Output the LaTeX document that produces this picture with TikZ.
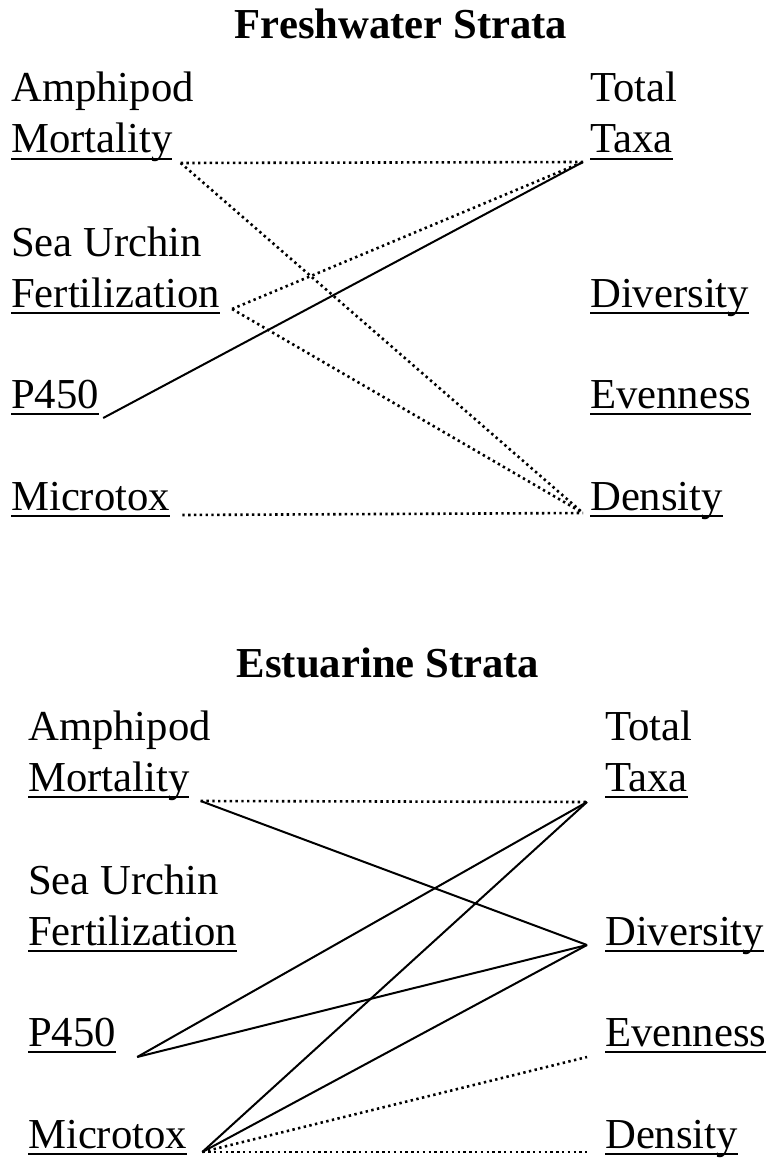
\documentclass[tikz,border=0pt]{standalone}
\usepackage{fontspec}
\setmainfont{Liberation Serif}
\usepackage{tikz}

% body size of the labels
\newcommand{\body}{\fontsize{42.7}{51}\selectfont}
% underline at a fixed depth, crossing the descenders
\newcommand{\ulword}[1]{\setbox0=\hbox{#1}\rlap{\rule[-0.16em]{\wd0}{0.05em}}\box0}

\begin{document}
\begin{tikzpicture}[x=1pt, y=-1pt,
        % Define styles for the texts and the links
        word/.style={anchor=base west, inner sep=0pt, font=\body},
        head/.style={anchor=base, inner sep=0pt, font=\body\bfseries},
        sig/.style={line width=2pt},
        nsig/.style={line width=2.6pt, dash pattern=on 2.4pt off 3.4pt}]

        \useasboundingbox (0,0) rectangle (769,1161);

        % 1. Freshwater strata: titles and terms
        \node[head] (ftitle) at (401,39) {Freshwater Strata};

        \node[word] (famph) at (11,102) {Amphipod};
        \node[word] (fmort) at (11,153) {\ulword{Mortality}};
        \node[word] (fsea)  at (11,256) {Sea Urchin};
        \node[word] (ffert) at (11,307) {\ulword{Fertilization}};
        \node[word] (fp450) at (11,408) {\ulword{P450}};
        \node[word] (fmicro) at (11,510) {\ulword{Microtox}};

        \node[word] (ftotal) at (590,102) {Total};
        \node[word] (ftaxa) at (590,153) {\ulword{Taxa}};
        \node[word] (fdiv)  at (590,307) {\ulword{Diversity}};
        \node[word] (feven) at (590,408) {\ulword{Evenness}};
        \node[word] (fdens) at (590,510) {\ulword{Density}};

        % 2. Ends of the links beside the terms
        \coordinate (fmort-r)  at ([xshift=8pt,yshift=-10pt]fmort.base east);
        \coordinate (ffert-r)  at ([xshift=12pt,yshift=-2pt]ffert.base east);
        \coordinate (fp450-r)  at ([xshift=4pt,yshift=-10pt]fp450.base east);
        \coordinate (fmicro-r) at ([xshift=12pt,yshift=-5pt]fmicro.base east);
        \coordinate (ftaxa-l)  at ([xshift=-7pt,yshift=-9pt]ftaxa.base west);
        \coordinate (fdens-l)  at ([xshift=-7pt,yshift=-3pt]fdens.base west);

        % 3. Freshwater links
        \draw[nsig] (fmort-r) -- (ftaxa-l);
        \draw[nsig] (fmort-r) -- (fdens-l);
        \draw[nsig] (ffert-r) -- (ftaxa-l);
        \draw[nsig] (ffert-r) -- (fdens-l);
        \draw[sig]  (fp450-r) -- (ftaxa-l);
        \draw[nsig] (fmicro-r) -- (fdens-l);

        % 4. Estuarine strata: titles and terms
        \node[head] (etitle) at (388,677) {Estuarine Strata};

        \node[word] (eamph) at (28,740) {Amphipod};
        \node[word] (emort) at (28,791) {\ulword{Mortality}};
        \node[word] (esea)  at (28,894) {Sea Urchin};
        \node[word] (efert) at (28,945) {\ulword{Fertilization}};
        \node[word] (ep450) at (28,1046) {\ulword{P450}};
        \node[word] (emicro) at (28,1148) {\ulword{Microtox}};

        \node[word] (etotal) at (605,740) {Total};
        \node[word] (etaxa) at (605,791) {\ulword{Taxa}};
        \node[word] (ediv)  at (605,945) {\ulword{Diversity}};
        \node[word] (eeven) at (605,1046) {\ulword{Evenness}};
        \node[word] (edens) at (605,1148) {\ulword{Density}};

        % 5. Ends of the links beside the terms
        \coordinate (emort-r)  at ([xshift=11pt,yshift=-10pt]emort.base east);
        \coordinate (ep450-r)  at ([xshift=21pt,yshift=-11pt]ep450.base east);
        \coordinate (emicro-r) at ([xshift=15pt,yshift=-4pt]emicro.base east);
        \coordinate (etaxa-l)  at ([xshift=-18pt,yshift=-11pt]etaxa.base west);
        \coordinate (ediv-l)   at ([xshift=-18pt]ediv.base west);
        \coordinate (eeven-l)  at ([xshift=-18pt,yshift=-11pt]eeven.base west);
        \coordinate (edens-l)  at ([xshift=-18pt,yshift=-4pt]edens.base west);

        % 6. Estuarine links
        \draw[nsig] (emort-r) -- (etaxa-l);
        \draw[sig]  (emort-r) -- (ediv-l);
        \draw[sig]  (ep450-r) -- (etaxa-l);
        \draw[sig]  (ep450-r) -- (ediv-l);
        \draw[sig]  (emicro-r) -- (etaxa-l);
        \draw[sig]  (emicro-r) -- (ediv-l);
        \draw[nsig] (emicro-r) -- (eeven-l);
        \draw[nsig] (emicro-r) -- (edens-l);
    \end{tikzpicture}
\end{document}
